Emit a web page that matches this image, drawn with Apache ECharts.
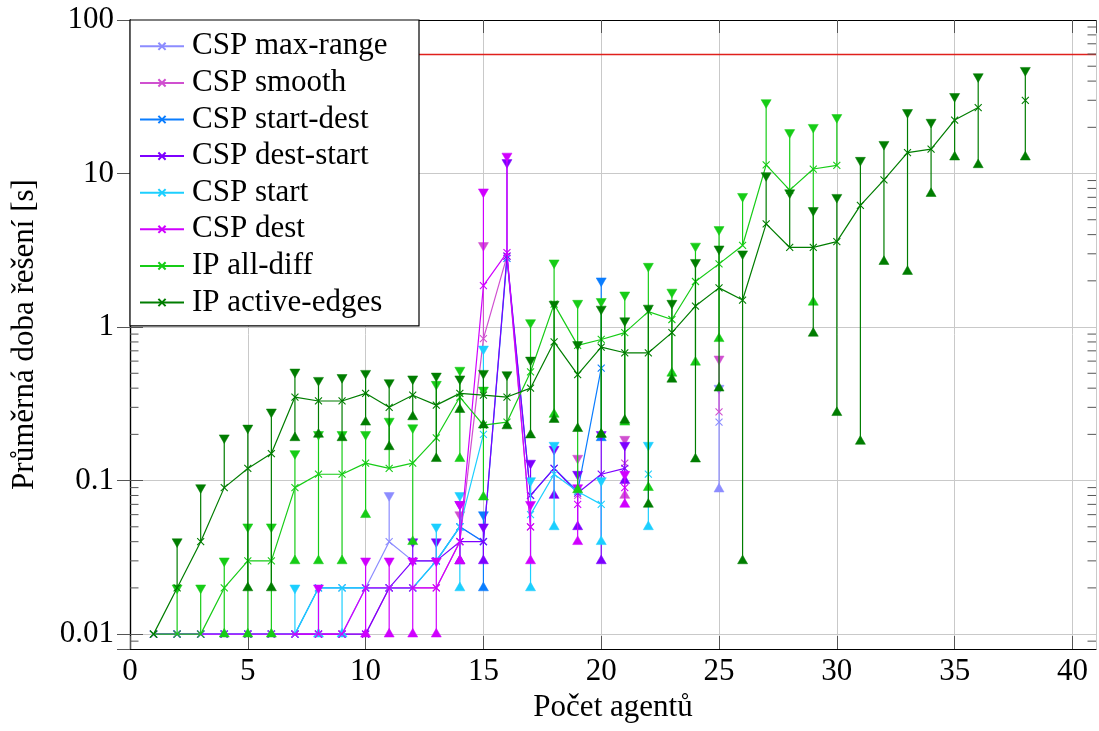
<!DOCTYPE html>
<html>
<head>
<meta charset="utf-8">
<script src="https://cdn.jsdelivr.net/npm/echarts@6/dist/echarts.min.js"></script>
<style>
  html, body { margin: 0; padding: 0; background: #fff; }
  #chart { width: 1099px; height: 731px; }
</style>
</head>
<body>
<div id="chart"></div>
<script>
const _ = null;

// Number of agents (x values)
const agents = [1,2,3,4,5,6,7,8,9,10,11,12,13,14,15,16,17,18,19,20,21,22,23,24,25,26,27,28,29,30,31,32,33,34,35,36,37,38];

// Mean solving time [s] and its min / max over the instances, per method
const maxRangeMean = [0.01,0.01,0.01,0.01,0.01,0.01,0.01,0.01,0.01,0.02, 0.04,0.03,0.03,0.05,0.04,_,_,_,_,_, _,_,_,_,0.24,_,_,_,_,_, _,_,_,_,_,_,_,_];
const maxRangeMin  = [_,_,_,_,_,_,_,_,_,_, _,_,_,_,_,_,_,_,_,_, _,_,_,_,0.088,_,_,_,_,_, _,_,_,_,_,_,_,_];
const maxRangeMax  = [_,_,_,_,_,_,_,_,_,_, 0.08,_,_,_,_,_,_,_,_,_, _,_,_,_,0.40,_,_,_,_,_, _,_,_,_,_,_,_,_];

const smoothMean = [0.01,0.01,0.01,0.01,0.01,0.01,0.01,0.01,0.01,0.01, 0.02,0.02,0.02,0.04,0.84,2.9,0.05,_,0.08,_, 0.13,_,_,_,0.28,_,_,_,_,_, _,_,_,_,_,_,_,_];
const smoothMin  = [_,_,_,_,_,_,_,_,_,_, _,_,_,0.03,_,_,_,_,_,_, 0.08,_,_,_,_,_,_,_,_,_, _,_,_,_,_,_,_,_];
const smoothMax  = [_,_,_,_,_,_,_,_,_,_, _,_,_,0.06,3.4,_,_,_,0.14,_, 0.186,_,_,_,0.62,_,_,_,_,_, _,_,_,_,_,_,_,_];

const startDestMean = [0.01,0.01,0.01,0.01,0.01,0.01,0.01,0.02,0.02,0.02, 0.02,0.02,0.03,0.05,0.04,2.8,0.08,0.12,0.085,0.54, _,_,_,_,_,_,_,_,_,_, _,_,_,_,_,_,_,_];
const startDestMin  = [_,_,_,_,_,_,_,_,_,_, _,_,_,_,0.02,_,_,_,_,0.19, _,_,_,_,_,_,_,_,_,_, _,_,_,_,_,_,_,_];
const startDestMax  = [_,_,_,_,_,_,_,_,_,_, _,_,_,_,0.06,_,_,_,_,2.0, _,_,_,_,_,_,_,_,_,_, _,_,_,_,_,_,_,_];

const destStartMean = [0.01,0.01,0.01,0.01,0.01,0.01,0.01,0.01,0.01,0.01, 0.02,0.03,0.03,0.04,0.04,2.9,0.08,0.12,0.083,0.11, 0.12,_,_,_,_,_,_,_,_,_, _,_,_,_,_,_,_,_];
const destStartMin  = [_,_,_,_,_,_,_,_,_,_, _,_,_,0.03,0.03,_,_,0.08,0.05,0.03, 0.10,_,_,_,_,_,_,_,_,_, _,_,_,_,_,_,_,_];
const destStartMax  = [_,_,_,_,_,_,_,_,_,_, _,0.04,0.04,0.07,0.05,11.8,0.13,0.16,0.11,0.20, 0.17,_,_,_,_,_,_,_,_,_, _,_,_,_,_,_,_,_];

const startMean = [0.01,0.01,0.01,0.01,0.01,0.01,0.01,0.02,0.02,0.02, 0.02,0.02,0.03,0.05,0.20,_,0.06,0.11,0.085,0.07, _,0.11,_,_,_,_,_,_,_,_, _,_,_,_,_,_,_,_];
const startMin  = [_,_,_,_,_,_,_,0.01,0.01,_, _,_,_,0.02,_,_,0.02,0.05,_,0.04, _,0.05,_,_,_,_,_,_,_,_, _,_,_,_,_,_,_,_];
const startMax  = [_,_,_,_,_,_,0.02,_,_,_, _,_,0.05,0.08,0.72,_,0.10,0.17,_,0.10, _,0.17,_,_,_,_,_,_,_,_, _,_,_,_,_,_,_,_];

const destMean = [0.01,0.01,0.01,0.01,0.01,0.01,0.01,0.01,0.01,0.02, 0.02,0.02,0.02,0.04,1.86,3.05,0.05,_,0.07,_, 0.09,_,_,_,_,_,_,_,_,_, _,_,_,_,_,_,_,_];
const destMin  = [_,_,_,_,_,_,_,_,_,0.01, 0.01,0.01,0.01,0.03,_,_,0.03,_,0.04,_, 0.07,_,_,_,_,_,_,_,_,_, _,_,_,_,_,_,_,_];
const destMax  = [_,_,_,_,_,_,_,0.02,_,0.03, 0.03,0.03,0.03,0.07,7.6,13,0.07,_,0.09,_, 0.11,_,_,_,_,_,_,_,_,_, _,_,_,_,_,_,_,_];

const allDiffMean = [0.01,0.01,0.01,0.02,0.03,0.03,0.09,0.11,0.11,0.13, 0.12,0.13,0.19,0.35,0.23,0.24,0.51,1.41,0.76,0.83, 0.92,1.26,1.12,1.98,2.58,3.4,11.4,7.8,10.7,11.3, _,_,_,_,_,_,_,_];
const allDiffMin  = [_,_,_,0.01,0.01,0.01,0.03,0.03,0.03,0.06, _,0.04,_,0.139,0.078,_,_,0.27,0.087,0.20, 0.24,0.09,0.50,0.59,0.84,_,_,_,1.45,_, _,_,_,_,_,_,_,_];
const allDiffMax  = [_,0.02,0.02,0.03,0.05,0.05,0.15,0.20,0.20,0.20, 0.244,0.221,0.424,0.524,0.389,_,1.07,2.62,1.43,1.47, 1.62,2.49,1.69,3.37,4.32,7.1,29,18.5,20,23.2, _,_,_,_,_,_,_,_];

const activeEdgesMean = [0.01,0.02,0.04,0.09,0.12,0.15,0.35,0.33,0.33,0.37, 0.30,0.36,0.31,0.37,0.36,0.35,0.40,0.80,0.49,0.74, 0.68,0.68,0.92,1.37,1.80,1.50,4.7,3.3,3.3,3.6, 6.2,9.1,13.7,14.4,22.3,26.9,_,30];
const activeEdgesMin  = [_,_,_,_,0.02,0.02,0.19,0.20,0.19,0.24, 0.166,0.26,0.139,0.29,0.23,0.227,0.198,0.25,0.218,0.20, 0.247,0.07,0.457,0.138,0.40,0.03,_,_,0.91,0.277, 0.18,2.67,2.3,7.4,12.8,11.4,_,12.8];
const activeEdgesMax  = [_,0.04,0.09,0.19,0.22,0.28,0.51,0.45,0.47,0.50, 0.435,0.46,0.48,0.46,0.50,0.49,0.61,1.41,0.77,1.31, 1.10,1.33,1.43,2.64,3.23,3.0,9.7,7.5,5.75,7.0, 12.2,15.5,25,21.6,31.8,42.8,_,47];

// Time limit [s]
const timeLimit = 60;

// Axis ticks and labels
const xTickLabels = ['0','5','10','15','20','25','30','35','40'];
const yTickValues = [0.01, 0.1, 1, 10, 100];
const yTickLabels = ['0.01','0.1','1','10','100'];
const yMinorTicks = [0.009,
  0.02,0.03,0.04,0.05,0.06,0.07,0.08,0.09,
  0.2,0.3,0.4,0.5,0.6,0.7,0.8,0.9,
  2,3,4,5,6,7,8,9,
  20,30,40,50,60,70,80,90];

const methods = [
  { name: 'CSP max-range',   color: '#8c8cff', mean: maxRangeMean,    lo: maxRangeMin,    hi: maxRangeMax },
  { name: 'CSP smooth',      color: '#d050d0', mean: smoothMean,      lo: smoothMin,      hi: smoothMax },
  { name: 'CSP start-dest',  color: '#0a7dff', mean: startDestMean,   lo: startDestMin,   hi: startDestMax },
  { name: 'CSP dest-start',  color: '#7d00ff', mean: destStartMean,   lo: destStartMin,   hi: destStartMax },
  { name: 'CSP start',       color: '#1ccfff', mean: startMean,       lo: startMin,       hi: startMax },
  { name: 'CSP dest',        color: '#d000ff', mean: destMean,        lo: destMin,        hi: destMax },
  { name: 'IP all-diff',     color: '#16cc16', mean: allDiffMean,     lo: allDiffMin,     hi: allDiffMax },
  { name: 'IP active-edges', color: '#007d00', mean: activeEdgesMean, lo: activeEdgesMin, hi: activeEdgesMax }
];

const FONT = '"Liberation Serif", "Times New Roman", serif';
const X_MAX = 41;
const crossSymbol = 'path://M0,0L10,10M10,0L0,10';

// Filled triangle centred on p; dir = 1 points up, dir = -1 points down
function triangle(p, dir, color) {
  const r = 5.8, hw = r * 0.866;
  const apexY = p[1] - dir * r, baseY = p[1] + dir * r / 2;
  return {
    type: 'polygon',
    shape: { points: [[p[0], apexY], [p[0] - hw, baseY], [p[0] + hw, baseY]] },
    style: { fill: color, stroke: color, lineWidth: 0.5 }
  };
}

function rangeSeries(m, z) {
  return {
    type: 'custom',
    name: m.name + ' (min–max)',
    z: z,
    silent: true,
    clip: false,
    animation: false,
    encode: { x: 0, y: 1 },
    data: agents.map((x, i) => [x, m.mean[i], m.lo[i], m.hi[i]].map(v => v === null ? '-' : v)),
    renderItem(params, api) {
      const x = api.value(0), mean = api.value(1), lo = api.value(2), hi = api.value(3);
      if (!isFinite(mean)) return;
      const pm = api.coord([x, mean]);
      const pTop = isFinite(hi) ? api.coord([x, hi]) : pm;
      const pBot = isFinite(lo) ? api.coord([x, lo]) : pm;
      const children = [];
      if (pTop[1] !== pBot[1]) {
        children.push({
          type: 'line',
          shape: { x1: pm[0], y1: pTop[1], x2: pm[0], y2: pBot[1] },
          style: { stroke: m.color, lineWidth: 1.2 }
        });
      }
      if (isFinite(hi)) children.push(triangle(pTop, -1, m.color));
      if (isFinite(lo)) children.push(triangle(pBot, 1, m.color));
      return { type: 'group', children: children };
    }
  };
}

function meanSeries(m, z, extra) {
  return Object.assign({
    type: 'line',
    name: m.name,
    z: z,
    silent: true,
    animation: false,
    clip: false,
    connectNulls: false,
    showAllSymbol: true,
    symbol: crossSymbol,
    symbolSize: 7,
    data: agents.map((x, i) => [x, m.mean[i] === null ? '-' : m.mean[i]]),
    lineStyle: { color: m.color, width: 1.2 },
    itemStyle: { color: m.color, borderColor: m.color, borderWidth: 1.1 },
    emphasis: { disabled: true }
  }, extra || {});
}

const series = [];
methods.forEach((m, i) => {
  series.push(rangeSeries(m, 2 + 2 * i));
  const extra = (i === methods.length - 1) ? {
    markLine: {
      silent: true,
      symbol: 'none',
      label: { show: false },
      lineStyle: { color: '#e0201c', width: 1.3, type: 'solid' },
      data: [{ yAxis: timeLimit }]
    }
  } : null;
  series.push(meanSeries(m, 3 + 2 * i, extra));
});

// Minor ticks of the logarithmic axis, on both the left and right frame edge
series.push({
  type: 'custom',
  name: 'minor-ticks',
  z: 30,
  silent: true,
  clip: false,
  animation: false,
  data: yMinorTicks.map(v => [0, v]),
  encode: { x: 0, y: 1 },
  renderItem(params, api) {
    const v = api.value(1);
    const l = api.coord([0, v]);
    const r = api.coord([X_MAX, v]);
    const len = 8.5;
    return {
      type: 'group',
      children: [
        { type: 'line', shape: { x1: l[0], y1: l[1], x2: l[0] + len, y2: l[1] }, style: { stroke: '#555', lineWidth: 1 } },
        { type: 'line', shape: { x1: r[0], y1: r[1], x2: r[0] - len, y2: r[1] }, style: { stroke: '#555', lineWidth: 1 } }
      ]
    };
  }
});

const frameLine = { show: true, lineStyle: { color: '#000', width: 1.2 } };
const majorTick = { show: true, inside: true, length: 13, lineStyle: { color: '#555', width: 1 } };
const gridLine = { show: true, lineStyle: { color: '#c9c9c9', width: 1 } };

function yLabel(v) {
  const i = yTickValues.findIndex(t => Math.abs(Math.log10(t) - Math.log10(v)) < 1e-6);
  return i >= 0 ? yTickLabels[i] : '';
}

const option = {
  backgroundColor: '#fff',
  animation: false,
  grid: { left: 130, right: 3, top: 20, bottom: 82, containLabel: false },
  legend: {
    data: methods.map(m => m.name),
    orient: 'vertical',
    left: 130,
    top: 20,
    itemWidth: 44,
    itemHeight: 9,
    itemGap: 0,
    padding: [8, 12, 5, 9],
    backgroundColor: '#fff',
    borderColor: '#000',
    borderWidth: 1.2,
    borderRadius: 0,
    selectedMode: false,
    textStyle: { fontFamily: FONT, fontSize: 31, color: '#000', lineHeight: 36.6, width: 215, padding: [0, 0, 0, 3] },
    z: 50
  },
  xAxis: [
    {
      type: 'value', position: 'bottom', min: 0, max: X_MAX, interval: 5,
      axisLine: frameLine, axisTick: majorTick, splitLine: gridLine,
      axisLabel: {
        margin: 7, color: '#000', fontFamily: FONT, fontSize: 31, showMaxLabel: false,
        formatter: v => { const i = Math.round(v / 5); return (v % 5 === 0 && i < xTickLabels.length) ? xTickLabels[i] : ''; }
      },
      name: 'Počet agentů', nameLocation: 'middle', nameGap: 35,
      nameTextStyle: { fontFamily: FONT, fontSize: 31, color: '#000' }
    },
    {
      type: 'value', position: 'top', min: 0, max: X_MAX, interval: 5,
      axisLine: frameLine, axisTick: majorTick, splitLine: { show: false }, axisLabel: { show: false }
    }
  ],
  yAxis: [
    {
      type: 'log', logBase: 10, position: 'left', min: 0.008, max: 100,
      axisLine: frameLine, axisTick: majorTick, splitLine: gridLine,
      axisLabel: { margin: 16, color: '#000', fontFamily: FONT, fontSize: 31, showMinLabel: false, formatter: yLabel },
      name: 'Průměrná doba řešení [s]', nameLocation: 'middle', nameGap: 90, nameRotate: 90,
      nameTextStyle: { fontFamily: FONT, fontSize: 31, color: '#000' }
    },
    {
      type: 'log', logBase: 10, position: 'right', min: 0.008, max: 100,
      axisLine: frameLine, axisTick: majorTick, splitLine: { show: false }, axisLabel: { show: false }
    }
  ],
  series: series
};

const chart = echarts.init(document.getElementById('chart'), null, { renderer: 'canvas' });
chart.setOption(option);
</script>
</body>
</html>
